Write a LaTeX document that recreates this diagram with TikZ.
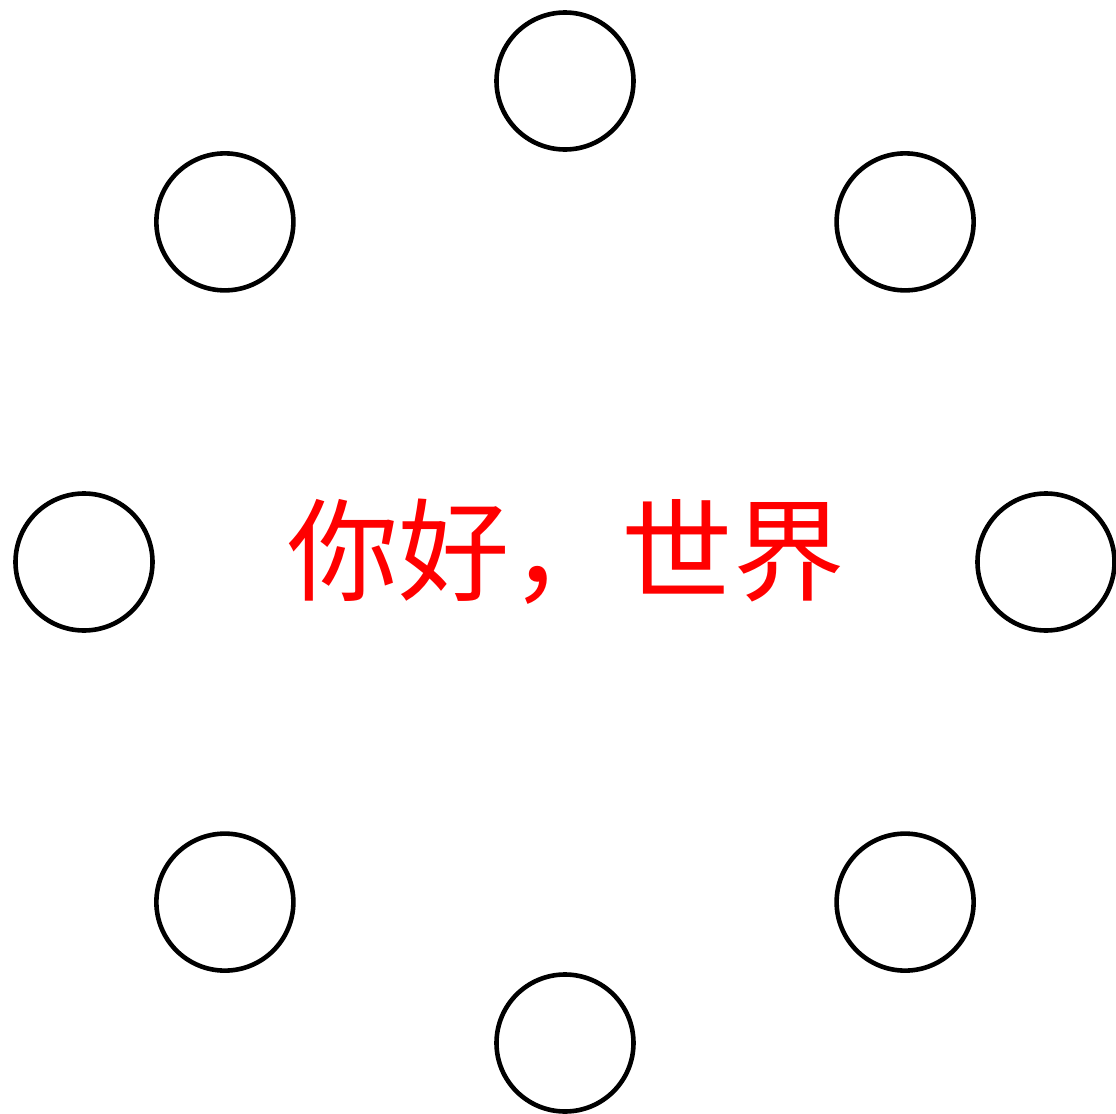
\documentclass[tikz,border=0pt]{standalone}
\usepackage{fontspec}
\usetikzlibrary{calc}
\newfontfamily\cjk{Noto Sans CJK SC}
\begin{document}
\begin{tikzpicture}[x=0.5pt,y=-0.5pt,
  ring/.style={circle,draw=black,line width=2.3pt,minimum size=68.5pt,inner sep=0pt}]
\useasboundingbox (0,0) rectangle (1116,1114);
\coordinate (c) at (565,562);
\foreach \a [count=\i] in {90,45,0,-45,-90,-135,180,135}{
  \node[ring] (n\i) at ($(c)+(\a:481)$) {};
}
\node[text=red,font=\cjk\fontsize{55.7pt}{60pt}\selectfont,inner sep=0pt] (t) at (566,552) {你好，世界};
\end{tikzpicture}
\end{document}
